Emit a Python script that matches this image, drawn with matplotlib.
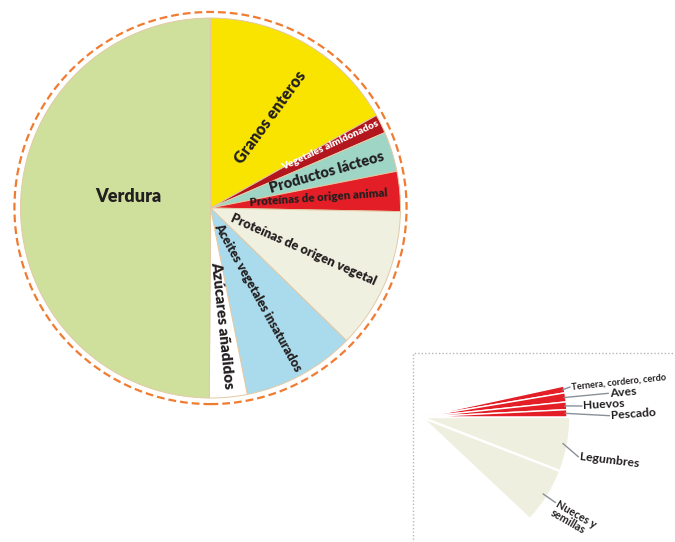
import numpy as np
import matplotlib.pyplot as plt
from matplotlib.patches import Circle, Rectangle

# plato (porcentaje), en sentido horario desde arriba
grupos = ['Granos enteros', 'Vegetales almidonados', 'Productos lácteos',
          'Proteínas de origen animal', 'Proteínas de origen vegetal',
          'Aceites vegetales insaturados', 'Azúcares añadidos', 'Verdura']
porcentajes = [16.9, 1.6, 3.4, 3.4, 12.0, 9.6, 3.2, 49.9]
colores = ['#f9e400', '#b3171d', '#9ed5c5', '#e41e26',
           '#f0f0e1', '#aadbec', '#ffffff', '#cfe09d']

# detalle de las proteinas (mismo porcentaje del plato)
proteinas = ['Ternera, cordero, cerdo', 'Aves', 'Huevos', 'Pescado',
             'Legumbres', 'Nueces y\nsemillas']
prot_pct = [0.75, 1.0, 0.85, 0.8, 5.9, 6.1]
prot_colores = ['#e41e26'] * 4 + ['#efefdf'] * 2

plt.rcParams['font.family'] = ['Lato', 'DejaVu Sans']
tinta = '#231f20'
peso = 'heavy'

fig = plt.figure(figsize=(6.75, 5.42), dpi=100)

#%% plato principal
ax = fig.add_axes([0.0135, 0.2446, 0.5967, 0.7432])
ax.pie(porcentajes, colors=colores, startangle=90, counterclock=False,
       wedgeprops=dict(edgecolor='#e3c9a5', linewidth=0.7))
ax.add_patch(Circle((0, 0), 1.032, fill=False, ec='#f07c32', lw=1.6,
                    ls=(0, (3.5, 1.8))))
ax.set_xlim(-1.06, 1.06)
ax.set_ylim(-1.06, 1.06)
ax.set_aspect('equal')
ax.axis('off')

# donde va cada texto (x, y, giro, tamaño)
etiq = [(0.314, 0.476, 54, 11.5), (0.633, 0.33, 25, 7.3),
        (0.611, 0.186, 16, 10.5), (0.567, 0.052, 4, 8.3),
        (0.49, -0.218, -24, 9.2), (0.249, -0.471, -61, 9),
        (0.061, -0.618, -84, 11), (-0.432, 0.063, 0, 13)]
for i in range(len(grupos)):
    x, y, rot, tam = etiq[i]
    col = 'white' if grupos[i] == 'Vegetales almidonados' else tinta
    ax.text(x, y, grupos[i], rotation=rot, rotation_mode='anchor',
            ha='center', va='center', fontsize=tam, fontweight=peso, color=col)

#%% recuadro con el detalle
fig.add_artist(Rectangle((413 / 675, -0.05), 0.5, 189 / 542 + 0.05,
                         transform=fig.transFigure, fill=False,
                         ls=(0, (1, 1.5)), lw=1, ec='#b8b8b8'))

ax2 = fig.add_axes([0.3966, -0.0522, 0.4542, 0.5657])
inicio = 3.6 * sum(prot_pct[:4])
cunas, _ = ax2.pie(np.array(prot_pct) / 100, normalize=False, colors=prot_colores,
                   startangle=inicio, counterclock=False,
                   explode=[0, 0, 0, 0, 0.02, 0.02],
                   wedgeprops=dict(edgecolor='white', linewidth=1))
ax2.set_xlim(-1.05, 1.05)
ax2.set_ylim(-1.05, 1.05)
ax2.set_aspect('equal')
ax2.axis('off')

# final de cada linea guia (x, y, giro, tamaño)
guias = [(1.02, 0.205, 6, 6.6), (1.282, 0.162, 5, 8.8), (1.101, 0.075, 3, 8.8),
         (1.290, 0.009, 4, 8.8), (1.077, -0.272, -7, 8.8), (0.92, -0.585, -30, 7.8)]
for i in range(len(proteinas)):
    w = cunas[i]
    ang = np.deg2rad((w.theta1 + w.theta2) / 2)
    x0, y0 = np.cos(ang) * 0.99, np.sin(ang) * 0.99
    x1, y1, rot, tam = guias[i]
    ax2.plot([x0, x1], [y0, y1], color='#8a9099', lw=1, clip_on=False)
    # el texto cuelga del primer renglon
    r = np.deg2rad(rot)
    sube = 0.04 if '\n' in proteinas[i] else 0
    tx = x1 + 0.01 * np.cos(r) - sube * np.sin(r)
    ty = y1 + 0.01 * np.sin(r) + sube * np.cos(r)
    ax2.text(tx, ty, proteinas[i], rotation=rot, rotation_mode='anchor',
             ha='left', va='top' if sube else 'center', fontsize=tam,
             family=['Liberation Sans Narrow', 'Lato'], fontweight='bold',
             color=tinta, linespacing=0.9)

fig.savefig('out.png', dpi=100)
